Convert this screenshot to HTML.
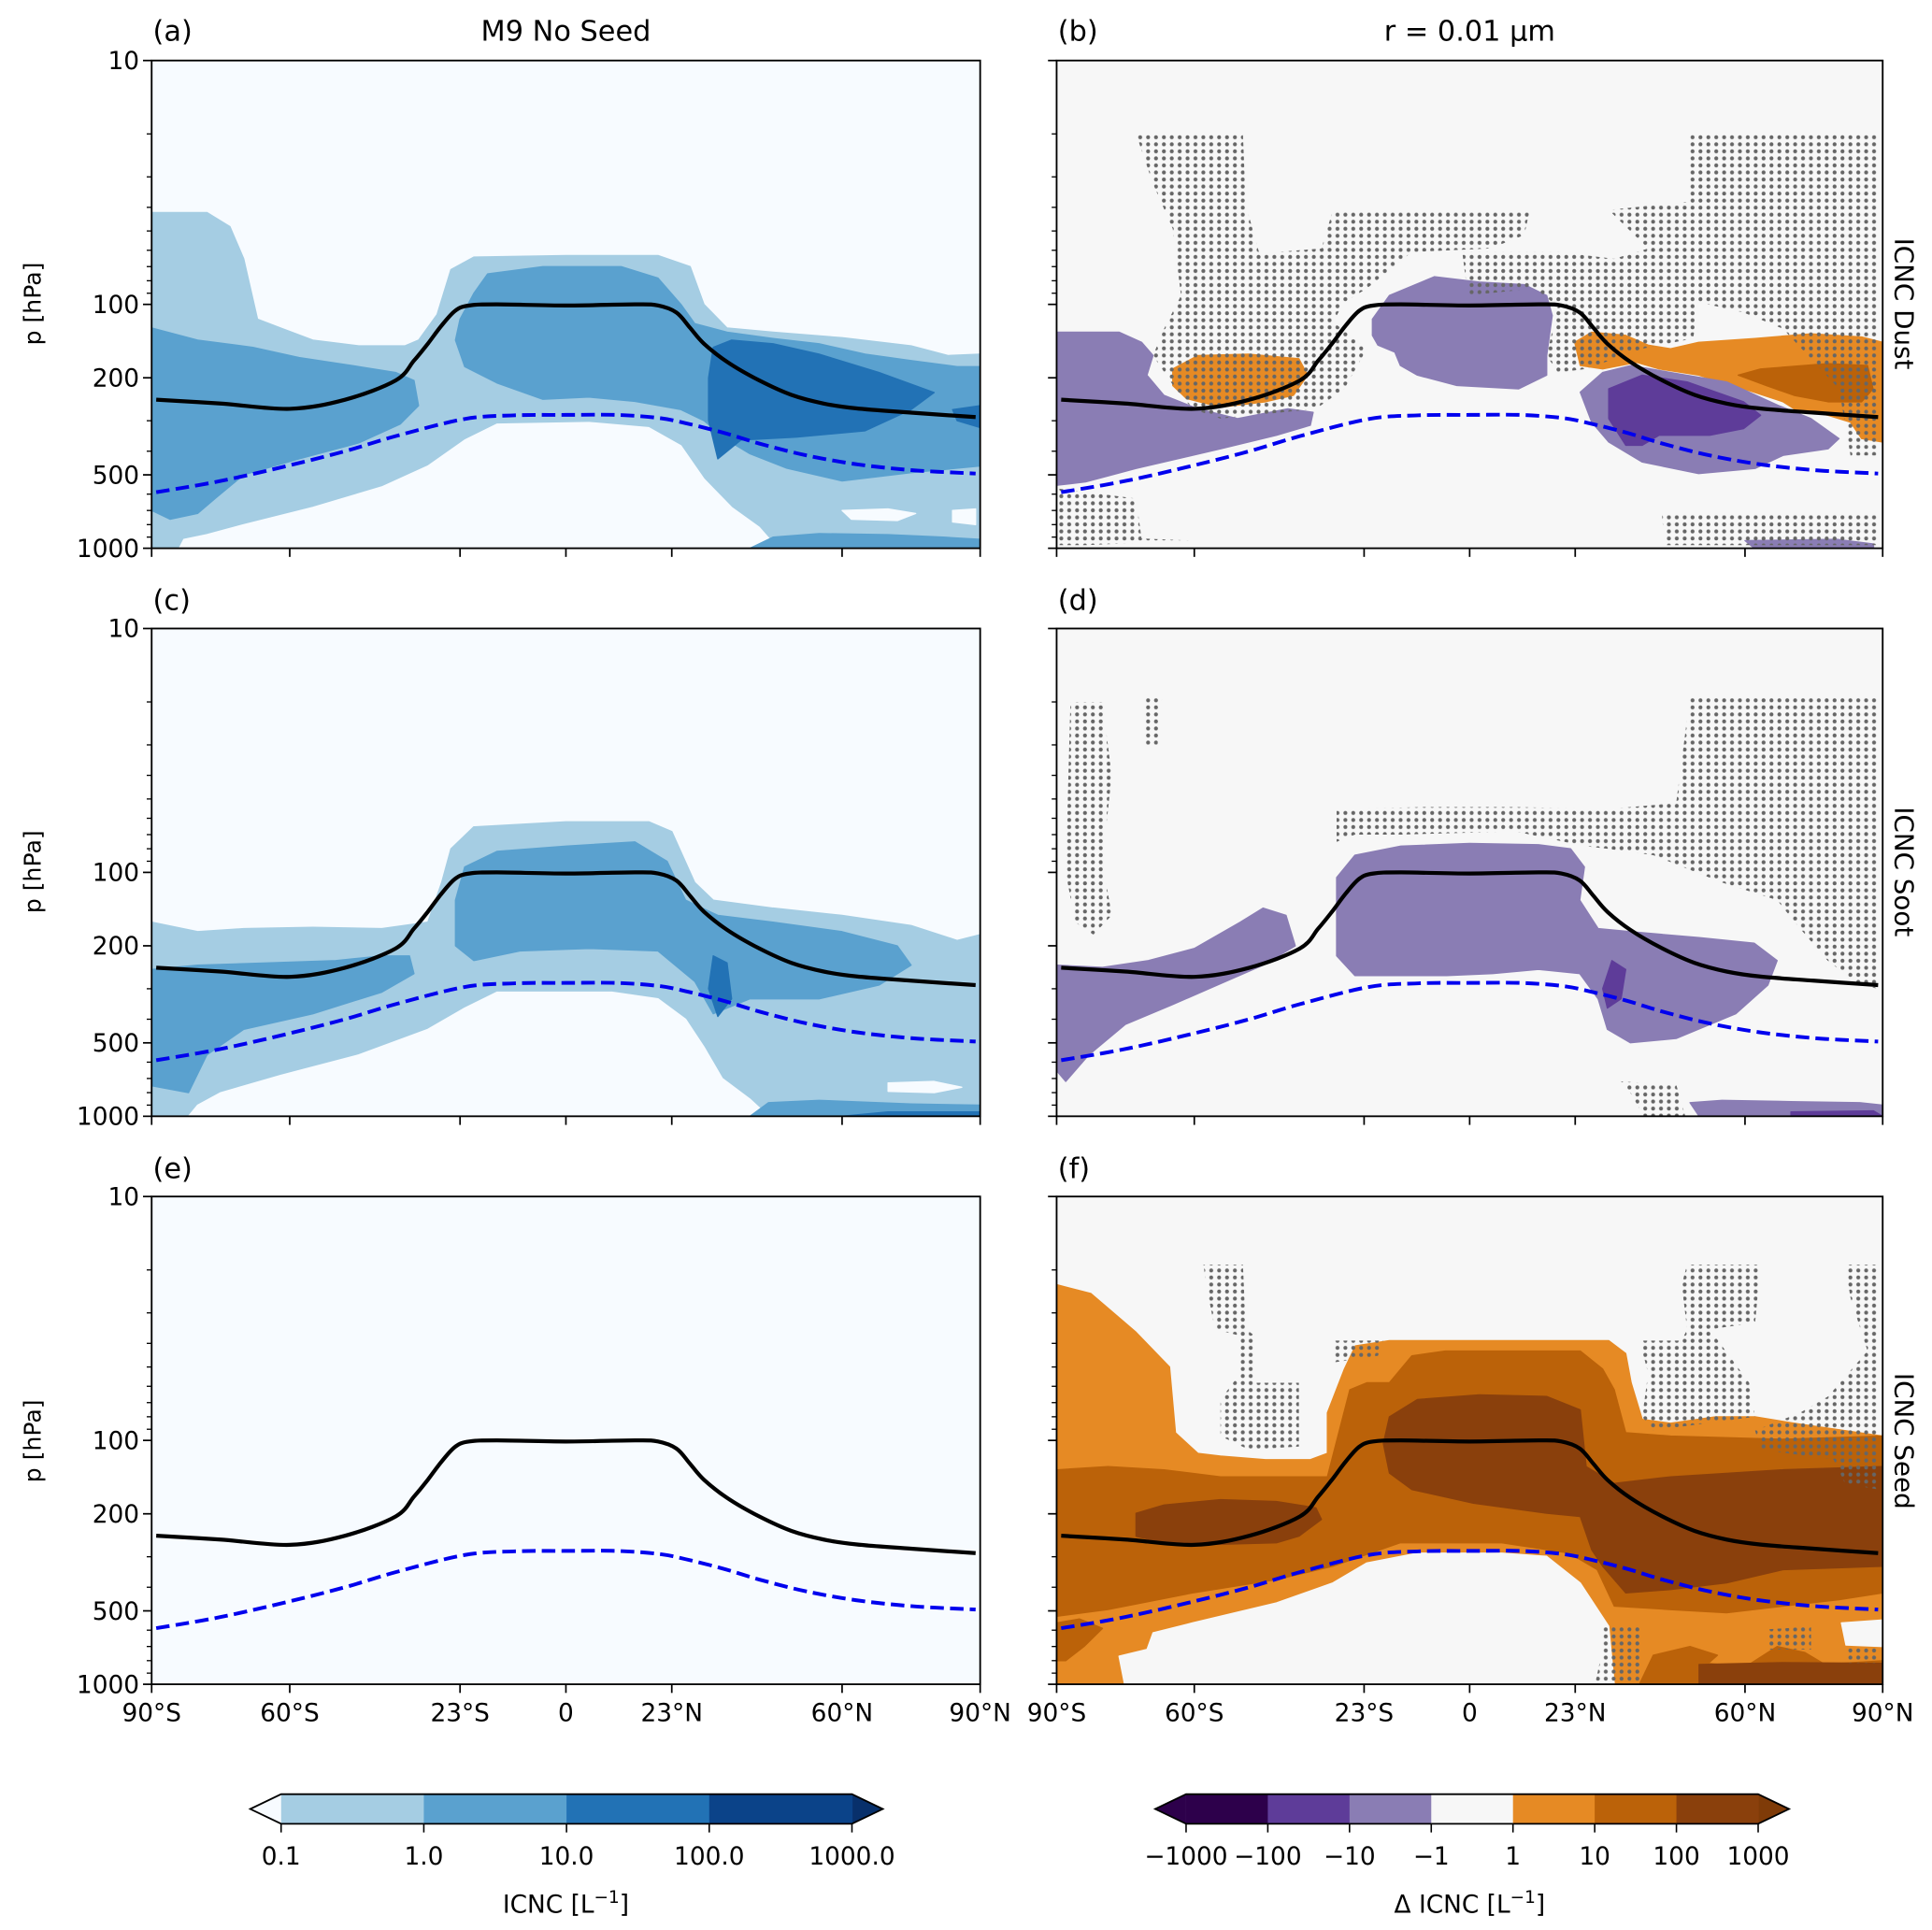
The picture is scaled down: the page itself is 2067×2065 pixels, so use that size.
<!DOCTYPE html>
<html><head><meta charset="utf-8"><title>ICNC zonal means</title>
<style>html,body{margin:0;padding:0;background:#fff}svg{display:block}text{font-family:"DejaVu Sans","Liberation Sans",sans-serif;fill:#000}</style>
</head><body>
<svg id="fig" xmlns="http://www.w3.org/2000/svg" width="2067" height="2065" viewBox="0 0 1567 1563" preserveAspectRatio="none">
<defs>
<pattern id="dots" patternUnits="userSpaceOnUse" width="6.4" height="5.7"><circle cx="3.2" cy="2.85" r="1.6" fill="#666"/></pattern>
</defs>
<rect x="0" y="0" width="1567" height="1563" fill="#fff"/>
<g id="panels"></g>
<text x="124" y="33" font-size="23">(a)</text>
<text x="459" y="33" font-size="23" text-anchor="middle">M9 No Seed</text>
<text x="858" y="33" font-size="23">(b)</text>
<text x="1192" y="33" font-size="23" text-anchor="middle">r = 0.01 µm</text>
<text x="124" y="494" font-size="23">(c)</text>
<text x="858" y="494" font-size="23">(d)</text>
<text x="124" y="954" font-size="23">(e)</text>
<text x="858" y="954" font-size="23">(f)</text>
<text transform="translate(1537,246) rotate(90)" font-size="21" text-anchor="middle">ICNC Dust</text>
<text transform="translate(1537,706) rotate(90)" font-size="21" text-anchor="middle">ICNC Soot</text>
<text transform="translate(1537,1167) rotate(90)" font-size="21" text-anchor="middle">ICNC Seed</text>
<text transform="translate(33,246) rotate(-90)" font-size="19" text-anchor="middle">p [hPa]</text>
<text transform="translate(33,706) rotate(-90)" font-size="19" text-anchor="middle">p [hPa]</text>
<text transform="translate(33,1167) rotate(-90)" font-size="19" text-anchor="middle">p [hPa]</text>
<g id="cbars"></g>
<text x="459" y="1549" font-size="20" text-anchor="middle">ICNC [L<tspan font-size="14" dy="-8">−1</tspan><tspan dy="8">]</tspan></text>
<text x="1192" y="1549" font-size="20" text-anchor="middle">Δ ICNC [L<tspan font-size="14" dy="-8">−1</tspan><tspan dy="8">]</tspan></text>
</svg>
<script>
// ---- data ----
const latTicks = [-90,-60,-23,0,23,60,90];
const latTickLabels = ['90°S','60°S','23°S','0','23°N','60°N','90°N'];
const pMajor = [10,100,200,500,1000];
const pMajorLabels = ['10','100','200','500','1000'];
const pMinor = [20,30,40,50,60,70,80,90,300,400,600,700,800,900];
const tropLat = [-89,-75,-60,-48,-37,-33,-30,-27,-24,-21,-15,0,15,20,24,27,30,35,42,49,56,63,75,89];
const tropP   = [246,255,268,246,205,170,145,122,106,101,100,101,100,101,108,125,145,172,205,235,255,267,278,290];
const tdLat = [-89,-75,-60,-48,-37,-22,-11,0,11,20,26,34,42,52,63,75,89];
const tdP   = [589,530,457,400,347,295,285,284,284,292,307,335,372,415,452,478,494];
const cbLeftLabels = ['0.1','1.0','10.0','100.0','1000.0'];
const cbLeftColors = ['#a5cde3','#5aa1cf','#2272b5','#0b4389'];
const cbRightLabels = ['−1000','−100','−10','−1','1','10','100','1000'];
const cbRightColors = ['#2d004b','#5e3c99','#8a7db4','#f7f7f7','#e68a24','#bb6209','#8a400c'];

// contour regions: [lat, p hPa]
const A_L1 = [[-88,42],[-78,42],[-73,48],[-70,65],[-67,115],[-62,125],[-55,140],[-45,148],[-35,148],[-32,140],[-28,110],[-25,72],[-20,64],[0,63],[20,63],[27,70],[30,100],[35,125],[45,130],[60,137],[75,148],[83,162],[90,160],[90,1000],[-90,1000],[-90,42]];
const A_H1 = [[-84,1000],[-83,920],[-78,880],[-70,800],[-55,680],[-40,560],[-30,460],[-22,360],[-15,310],[5,305],[18,320],[25,380],[30,520],[36,680],[42,820],[46,1000]];
const A_H2 = [[60,700],[70,690],[76,720],[72,770],[62,760]];
const A_H3 = [[84,700],[89,690],[89,800],[84,780]];
const A_L2a = [[-90,125],[-80,140],[-68,150],[-58,165],[-45,180],[-37,190],[-33,205],[-32,260],[-36,310],[-45,370],[-58,430],[-70,500],[-76,620],[-80,720],[-86,760],[-90,700]];
const A_L2b = [[-23,115],[-20,90],[-17,75],[-5,70],[12,70],[20,78],[25,100],[28,120],[35,130],[45,138],[55,145],[65,160],[75,170],[85,180],[90,180],[90,460],[75,490],[60,530],[48,470],[40,410],[35,360],[30,300],[25,270],[15,250],[5,240],[-5,245],[-15,210],[-22,180],[-24,140]];
const A_L2c = [[40,1000],[45,900],[55,870],[70,880],[82,900],[90,920],[90,1000]];
const A_L3a = [[32,150],[36,140],[45,145],[55,160],[68,190],[80,230],[75,270],[65,330],[50,350],[38,360],[33,430],[31,300],[31,200]];
const A_L3b = [[84,270],[90,260],[90,320],[85,300]];

const C_L1 = [[-90,160],[-80,175],[-70,170],[-55,168],[-40,170],[-30,160],[-27,110],[-25,80],[-20,65],[0,62],[18,62],[23,68],[28,110],[32,130],[45,140],[60,150],[75,165],[85,190],[90,180],[90,1000],[-90,1000]];
const C_H1 = [[-82,1000],[-80,900],[-75,800],[-62,680],[-45,560],[-30,440],[-22,360],[-15,310],[10,310],[20,330],[26,400],[30,520],[34,700],[40,850],[44,1000]];
const C_H2 = [[70,730],[80,720],[86,760],[80,800],[70,790]];
const C_L2a = [[-90,250],[-80,240],[-65,235],[-50,230],[-40,220],[-34,220],[-33,260],[-40,310],[-55,380],[-70,440],[-78,560],[-82,800],[-90,750]];
const C_L2b = [[-24,130],[-22,95],[-15,82],[0,78],[15,75],[22,90],[26,130],[33,150],[45,160],[60,175],[72,200],[75,240],[68,290],[55,330],[40,330],[32,380],[28,280],[20,210],[5,205],[-10,210],[-20,230],[-24,200]];
const C_L2c = [[40,1000],[44,880],[55,860],[75,890],[90,900],[90,1000]];
const C_L3a = [[32,220],[35,235],[36,330],[33,390],[31,300]];
const C_L3b = [[60,1000],[70,960],[90,960],[90,1000]];

const B_O1 = [[-64.7,184],[-59.2,162],[-48.2,160],[-37.2,167],[-35.3,195],[-38.4,236],[-44.5,251],[-54.3,264],[-61.7,243],[-64.7,215]];
const B_O2 = [[22.9,143],[26.6,130],[34,134],[38.9,147],[43.8,152],[49.9,143],[62.2,138],[74.4,132],[85.4,136],[90,143],[90,367],[85.4,355],[83,304],[78.1,285],[70.7,268],[68.3,251],[59.7,222],[49.9,195],[41.3,184],[36.4,173],[29,184],[24.1,178]];
const B_OM = [[58.5,195],[63.4,184],[78.1,175],[86.7,178],[87.9,222],[85.4,251],[78.1,251],[70.7,236],[64.6,215]];
const B_P1 = [[-90,130],[-76.4,130],[-71.5,143],[-69,162],[-70.3,195],[-66.6,236],[-59.2,268],[-50.6,294],[-39.6,268],[-34.1,277],[-34.7,313],[-42.1,344],[-54.3,391],[-72.7,471],[-83.7,535],[-90,552]];
const B_P2 = [[-21.2,115],[-17.5,92],[-7.7,77],[2.1,81],[11.9,83],[16.8,92],[18,111],[16.8,162],[16.8,195],[10.7,222],[-2.8,215],[-11.4,195],[-15.1,178],[-16.3,157],[-20,147],[-21.2,134]];
const B_P3 = [[24.1,229],[29,190],[35.2,178],[43.8,190],[56,208],[67.1,259],[74.4,294],[80.5,355],[78.1,391],[68.3,416],[62.2,471],[49.9,494],[37.6,443],[30.3,367],[26.6,304]];
const B_PM = [[30.3,222],[37.6,195],[47.4,208],[59.7,251],[63.4,285],[59.7,323],[52.3,344],[41.3,344],[37.6,378],[34,378],[30.3,294]];
const B_P4 = [[60,930],[80,920],[88,960],[88,1000],[62,1000]];
const B_S1 = [[-72.7,20],[-49.4,20],[-48.8,39],[-45.7,63],[-42.1,61],[-32.3,59],[-29.8,41],[13.1,41],[11.9,52],[4.5,59],[-12.6,61],[-22.4,86],[-27.3,98],[-29.8,118],[-22.4,152],[-27.3,222],[-33.5,268],[-54.3,294],[-60.4,268],[-64.1,222],[-69,162],[-66.6,126],[-62.9,92],[-64.7,49],[-69,32]];
const B_S2 = [[-1.6,61],[19.2,61],[31.5,65],[38.9,59],[30.3,41],[47.4,38],[47.4,20],[89.1,20],[89.1,416],[83,416],[80.5,222],[68.3,126],[59.7,108],[49.9,98],[48.7,138],[37.6,152],[25.4,184],[19.2,190],[16.8,162],[19.2,102],[14.3,86],[-0.4,92]];
const B_S3 = [[41.9,732],[89.1,732],[89.1,971],[42.5,971]];
const B_S4 = [[-89.9,569],[-72.7,625],[-71.5,912],[-60.4,930],[-83.7,971],[-89.9,971]];

const D_P1 = [[-90,240],[-80,245],[-70,230],[-60,205],[-50,160],[-45,140],[-40,150],[-38,200],[-45,240],[-55,290],[-65,350],[-75,420],[-83,560],[-88,720],[-90,650]];
const D_P2 = [[-29,105],[-25,85],[-15,78],[0,76],[15,77],[22,80],[25,95],[24,130],[28,170],[35,175],[50,185],[62,195],[67,230],[65,290],[58,380],[45,480],[35,500],[30,440],[28,330],[24,260],[15,250],[5,260],[-5,265],[-15,265],[-25,265],[-29,220]];
const D_PM1 = [[31,230],[34,250],[33,330],[30,360],[29,300]];
const D_P3 = [[48,880],[55,860],[70,870],[85,880],[90,900],[90,1000],[50,1000]];
const D_PM2 = [[70,960],[88,950],[90,1000],[70,1000]];
const D_S1 = [[-87,20],[-80,20],[-78,40],[-80,90],[-78,150],[-82,180],[-86,160],[-88,100]];
const D_S2 = [[-71,19],[-67,19],[-68,30],[-71,30]];
const D_S3 = [[-29,55],[-10,54],[10,54],[30,55],[45,52],[48,19],[89,19],[89,300],[85,290],[78,230],[72,170],[67,130],[55,110],[40,85],[30,80],[25,78],[10,68],[-15,70],[-25,70],[-29,75]];
const D_S4 = [[33,720],[45,740],[47,1000],[38,1000],[35,800]];

const F_L1 = [[-90,23],[-82.5,25],[-72.7,36],[-65.4,50],[-64.1,93],[-59.2,113],[-54.3,116],[-44.5,120],[-34.7,120],[-31,113],[-31,77],[-27.3,51],[-24.9,41],[-17.5,39],[7,39],[30.3,39],[34,44],[35.2,58],[37.6,82],[43.8,85],[53.6,80],[62.2,80],[70.7,85],[90,96],[90,1000],[-90,1000]];
const F_H1 = [[31.5,1000],[30.3,578],[24.1,384],[16.8,299],[7,290],[-11.4,290],[-22.4,318],[-29.8,384],[-42.1,464],[-60.4,560],[-69,615],[-70.3,720],[-76.4,767],[-75.2,1000]];
const F_H2 = [[81,560],[90,545],[90,700],[82,690]];
const F_L2a = [[-90,132],[-78.8,128],[-66.6,132],[-54.3,141],[-39.6,141],[-31,141],[-26.1,62],[-22.4,58],[-17.5,58],[-12.6,45],[-5.3,43],[24.1,43],[29,51],[31.5,62],[34,93],[43.8,96],[68.3,99],[90,96],[90,422],[80.5,450],[68.3,478],[56,509],[43.8,494],[31.5,478],[27.8,339],[21.7,290],[7,263],[-15.1,263],[-29.8,328],[-42.1,372],[-60.4,422],[-78.8,494],[-90,526]];
const F_L2b = [[37,1000],[40,760],[48,700],[54,760],[52,820],[60,850],[67,700],[73,740],[77,820],[81,820],[90,800],[90,1000]];
const F_L2c = [[-90,560],[-85,540],[-80,590],[-84,700],[-88,800],[-90,800]];
const F_L3a = [[-17.5,80],[-11.4,68],[2.1,65],[16.8,66],[24.1,75],[25.4,128],[31.5,150],[43.8,141],[68.3,132],[90,128],[90,328],[68.3,339],[56,384],[43.8,409],[34,422],[29,328],[26.6,281],[24.1,205],[16.8,199],[0.8,181],[-12.6,159],[-17.5,136],[-18.8,103]];
const F_L3b = [[-72.7,199],[-66.6,184],[-54.3,175],[-42.1,178],[-33.5,189],[-32.3,211],[-37.2,247],[-42.1,263],[-54.3,267],[-66.6,263],[-72.7,247]];
const F_L3c = [[50,830],[68,815],[90,820],[90,1000],[50,1000]];
const F_S1 = [[-58,19],[-49.4,19],[-48.8,35],[-47,37],[-47,58],[-37.2,58],[-37.2,106],[-48.2,109],[-54.3,96],[-54.3,68],[-50.6,55],[-50.6,37],[-55.5,35],[-57.4,23]];
const F_S2 = [[-29.8,39],[-18.8,39],[-20,45],[-29.8,48]];
const F_S3 = [[47.4,19],[63.4,19],[62.2,33],[52.3,35],[60.9,58],[62.2,80],[40,91],[37.6,80],[38.9,53],[37,39],[46.2,39],[47.4,35],[46.2,23]];
const F_S4 = [[81.8,19],[89.1,19],[89.1,159],[81.8,150],[79.3,120],[63.4,109],[62.2,91],[72,77],[78.1,66],[86.7,43],[83,26]];
const F_S5 = [[29,578],[37.6,578],[37.6,1000],[27.3,1000],[29,720]];
const F_S6 = [[64.6,596],[74.4,580],[74.4,720],[64.6,720]];
const F_S7 = [[81.8,700],[89.1,700],[89.1,817],[81.8,817]];

// ---- layout ----
const NS='http://www.w3.org/2000/svg';
const root=document.getElementById('panels');
const panels=[
 {id:'a',x0:123,y0:49,w:672,h:395,bg:'#f7fbff',left:true,bottom:false,layers:[[A_L1,'#a5cde3'],[A_H1,'#f7fbff'],[A_H2,'#f7fbff'],[A_H3,'#f7fbff'],[A_L2a,'#5aa1cf'],[A_L2b,'#5aa1cf'],[A_L2c,'#5aa1cf'],[A_L3a,'#2272b5'],[A_L3b,'#2272b5']]},
 {id:'b',x0:857,y0:49,w:670,h:395,bg:'#f7f7f7',left:false,bottom:false,layers:[[B_O1,'#e68a24'],[B_O2,'#e68a24'],[B_OM,'#bb6209'],[B_P1,'#8a7db4'],[B_P2,'#8a7db4'],[B_P3,'#8a7db4'],[B_P4,'#8a7db4'],[B_PM,'#5e3c99'],[B_S1,'url(#dots)'],[B_S2,'url(#dots)'],[B_S3,'url(#dots)'],[B_S4,'url(#dots)']]},
 {id:'c',x0:123,y0:509,w:672,h:395,bg:'#f7fbff',left:true,bottom:false,layers:[[C_L1,'#a5cde3'],[C_H1,'#f7fbff'],[C_H2,'#f7fbff'],[C_L2a,'#5aa1cf'],[C_L2b,'#5aa1cf'],[C_L2c,'#5aa1cf'],[C_L3a,'#2272b5'],[C_L3b,'#2272b5']]},
 {id:'d',x0:857,y0:509,w:670,h:395,bg:'#f7f7f7',left:false,bottom:false,layers:[[D_P1,'#8a7db4'],[D_P2,'#8a7db4'],[D_P3,'#8a7db4'],[D_PM1,'#5e3c99'],[D_PM2,'#5e3c99'],[D_S1,'url(#dots)'],[D_S2,'url(#dots)'],[D_S3,'url(#dots)'],[D_S4,'url(#dots)']]},
 {id:'e',x0:123,y0:969,w:672,h:395,bg:'#f7fbff',left:true,bottom:true,layers:[]},
 {id:'f',x0:857,y0:969,w:670,h:395,bg:'#f7f7f7',left:false,bottom:true,layers:[[F_L1,'#e68a24'],[F_H1,'#f7f7f7'],[F_H2,'#f7f7f7'],[F_L2a,'#bb6209'],[F_L2b,'#bb6209'],[F_L2c,'#bb6209'],[F_L3a,'#8a400c'],[F_L3b,'#8a400c'],[F_L3c,'#8a400c'],[F_S1,'url(#dots)'],[F_S2,'url(#dots)'],[F_S3,'url(#dots)'],[F_S4,'url(#dots)'],[F_S5,'url(#dots)'],[F_S6,'url(#dots)'],[F_S7,'url(#dots)']]}
];
function mk(tag,parent){const e=document.createElementNS(NS,tag);parent.appendChild(e);return e;}
function smooth(pts){let d='M'+pts[0][0].toFixed(1)+','+pts[0][1].toFixed(1);
 for(let i=0;i<pts.length-1;i++){const p0=pts[Math.max(0,i-1)],p1=pts[i],p2=pts[i+1],p3=pts[Math.min(pts.length-1,i+2)];
  const c1=[p1[0]+(p2[0]-p0[0])/6,p1[1]+(p2[1]-p0[1])/6],c2=[p2[0]-(p3[0]-p1[0])/6,p2[1]-(p3[1]-p1[1])/6];
  d+='C'+c1[0].toFixed(1)+','+c1[1].toFixed(1)+' '+c2[0].toFixed(1)+','+c2[1].toFixed(1)+' '+p2[0].toFixed(1)+','+p2[1].toFixed(1);}
 return d;}
panels.forEach(P=>{
 const X=lat=>P.x0+(lat+90)/180*P.w;
 const Y=p=>P.y0+(Math.log10(p)-1)/2*P.h;
 const g=mk('g',root);
 
 
 const cp=mk('clipPath',g);cp.setAttribute('id','clip-'+P.id);
 const cr=mk('rect',cp);cr.setAttribute('x',P.x0);cr.setAttribute('y',P.y0);cr.setAttribute('width',P.w);cr.setAttribute('height',P.h);
 const bg=mk('rect',g);
 
 
 bg.setAttribute('x',P.x0);bg.setAttribute('y',P.y0);bg.setAttribute('width',P.w);bg.setAttribute('height',P.h);bg.setAttribute('fill',P.bg);
 const cg=mk('g',g);cg.setAttribute('clip-path','url(#clip-'+P.id+')');
 P.layers.forEach(L=>{
  const pts=L[0].map(q=>[X(q[0]),Y(q[1])]);
  const el=mk('path',cg);
  
  
  el.setAttribute('d','M'+pts.map(q=>q[0].toFixed(1)+','+q[1].toFixed(1)).join('L')+'Z');
  el.setAttribute('fill',L[1]);
  el.setAttribute('stroke',L[1].indexOf('url')===0?'none':L[1]);
  el.setAttribute('stroke-width','1');
  el.setAttribute('stroke-linejoin','round');
 });
 const tl=mk('path',cg);
 
 
 tl.setAttribute('d',smooth(tropLat.map((l,i)=>[X(l),Y(tropP[i])])));
 tl.setAttribute('fill','none');tl.setAttribute('stroke','#000');tl.setAttribute('stroke-width','3.2');
 const dl=mk('path',cg);
 
 
 dl.setAttribute('d',smooth(tdLat.map((l,i)=>[X(l),Y(tdP[i])])));
 dl.setAttribute('fill','none');dl.setAttribute('stroke','#0000ee');dl.setAttribute('stroke-width','3');dl.setAttribute('stroke-dasharray','11,5');
 const fr=mk('rect',g);
 
 
 fr.setAttribute('x',P.x0);fr.setAttribute('y',P.y0);fr.setAttribute('width',P.w);fr.setAttribute('height',P.h);fr.setAttribute('fill','none');fr.setAttribute('stroke','#000');fr.setAttribute('stroke-width','1.4');
 latTicks.forEach((l,i)=>{
  const t=mk('line',g);
  
  
  t.setAttribute('x1',X(l));t.setAttribute('x2',X(l));t.setAttribute('y1',P.y0+P.h);t.setAttribute('y2',P.y0+P.h+7);t.setAttribute('stroke','#000');t.setAttribute('stroke-width','1.3');
  if(P.bottom){const tx=mk('text',g);
   
   
   tx.setAttribute('x',X(l));tx.setAttribute('y',P.y0+P.h+30);tx.setAttribute('font-size','20');tx.setAttribute('text-anchor','middle');tx.textContent=latTickLabels[i];}
 });
 pMajor.forEach((p,i)=>{
  const t=mk('line',g);
  
  
  t.setAttribute('x1',P.x0-7);t.setAttribute('x2',P.x0);t.setAttribute('y1',Y(p));t.setAttribute('y2',Y(p));t.setAttribute('stroke','#000');t.setAttribute('stroke-width','1.3');
  if(P.left){const tx=mk('text',g);
   
   
   tx.setAttribute('x',P.x0-10);tx.setAttribute('y',Y(p)+7);tx.setAttribute('font-size','20');tx.setAttribute('text-anchor','end');tx.textContent=pMajorLabels[i];}
 });
 pMinor.forEach(p=>{
  const t=mk('line',g);
  
  
  t.setAttribute('x1',P.x0-4);t.setAttribute('x2',P.x0);t.setAttribute('y1',Y(p));t.setAttribute('y2',Y(p));t.setAttribute('stroke','#000');t.setAttribute('stroke-width','1');
 });
});
// ---- colorbars ----
const cb=document.getElementById('cbars');
function colorbar(x0,x1,colors,labels,extL,extR,name){
 const y0=1453,y1=1477,n=colors.length,w=(x1-x0)/n;
 const g=mk('g',cb);
 
 
 const tL=mk('polygon',g);
 
 
 tL.setAttribute('points',x0+','+y0+' '+(x0-25)+','+((y0+y1)/2)+' '+x0+','+y1);tL.setAttribute('fill',extL);
 const tR=mk('polygon',g);
 
 
 tR.setAttribute('points',x1+','+y0+' '+(x1+25)+','+((y0+y1)/2)+' '+x1+','+y1);tR.setAttribute('fill',extR);
 colors.forEach((c,i)=>{const r=mk('rect',g);
  
  
  r.setAttribute('x',x0+i*w);r.setAttribute('y',y0);r.setAttribute('width',w+0.5);r.setAttribute('height',y1-y0);r.setAttribute('fill',c);});
 const o=mk('polygon',g);
 
 
 o.setAttribute('points',x0+','+y0+' '+x1+','+y0+' '+(x1+25)+','+((y0+y1)/2)+' '+x1+','+y1+' '+x0+','+y1+' '+(x0-25)+','+((y0+y1)/2));
 o.setAttribute('fill','none');o.setAttribute('stroke','#000');o.setAttribute('stroke-width','1.4');
 labels.forEach((lb,i)=>{const xx=x0+i*(x1-x0)/(labels.length-1);
  const t=mk('line',g);
  
  
  t.setAttribute('x1',xx);t.setAttribute('x2',xx);t.setAttribute('y1',y1);t.setAttribute('y2',y1+7);t.setAttribute('stroke','#000');t.setAttribute('stroke-width','1.2');
  const tx=mk('text',g);
  
  
  tx.setAttribute('x',xx);tx.setAttribute('y',y1+33);tx.setAttribute('font-size','20');tx.setAttribute('text-anchor','middle');tx.textContent=lb;});
}
colorbar(228,691,cbLeftColors,cbLeftLabels,'#f7fbff','#08306b','colorbar-icnc');
colorbar(962,1426,cbRightColors,cbRightLabels,'#2d004b','#7f3b08','colorbar-delta-icnc');
</script>
</body></html>
